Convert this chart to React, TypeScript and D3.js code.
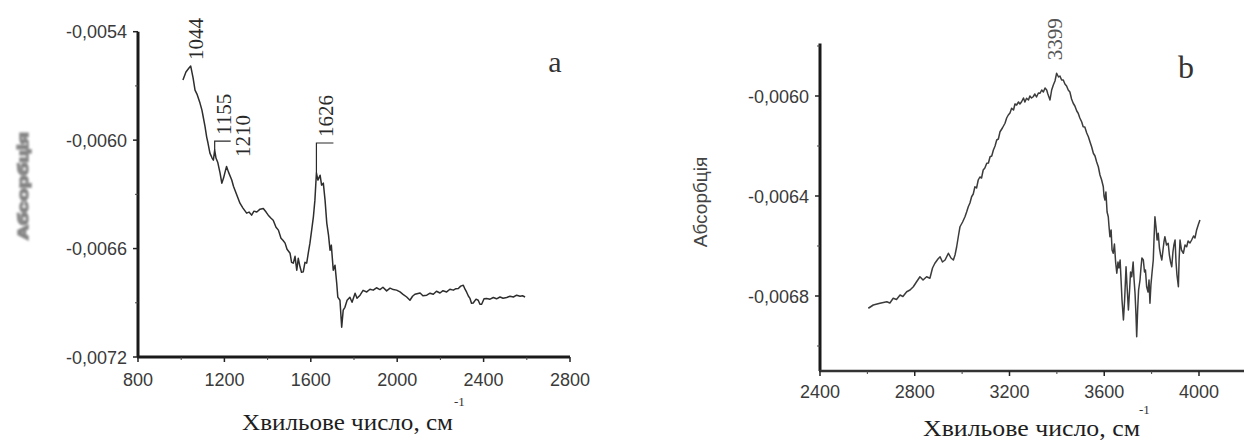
import React from "react";
import * as d3 from "d3";

// Spectrum (a): wavenumber, cm^-1 / absorbance
const spectrumA: [number, number][] = [
  [1008, -0.005667], [1022, -0.005623], [1036, -0.005601], [1044, -0.00559], [1055, -0.005656],
  [1064, -0.005723], [1073, -0.005745], [1087, -0.005795], [1096, -0.005834], [1102, -0.005872],
  [1110, -0.005922], [1118, -0.005983], [1124, -0.006016], [1133, -0.006072], [1143, -0.006099],
  [1149, -0.006111], [1155, -0.006055], [1161, -0.006099], [1169, -0.006122], [1180, -0.006183],
  [1188, -0.006238], [1196, -0.00621], [1203, -0.006177], [1210, -0.006146], [1219, -0.006177],
  [1234, -0.006221], [1242, -0.006255], [1249, -0.006277], [1261, -0.006315], [1272, -0.006349],
  [1286, -0.006376], [1303, -0.006404], [1314, -0.006398], [1326, -0.006415], [1337, -0.006393],
  [1350, -0.006398], [1365, -0.006382], [1380, -0.006378], [1393, -0.006398], [1403, -0.006415],
  [1416, -0.006432], [1426, -0.006443], [1439, -0.006482], [1450, -0.006498], [1462, -0.006543],
  [1471, -0.006554], [1481, -0.00657], [1490, -0.006604], [1504, -0.006626], [1511, -0.006676],
  [1519, -0.006681], [1527, -0.006643], [1535, -0.00672], [1542, -0.006654], [1550, -0.006701],
  [1557, -0.006731], [1565, -0.006729], [1573, -0.006676], [1581, -0.006681], [1589, -0.00662],
  [1596, -0.00657], [1604, -0.006498], [1612, -0.006425], [1619, -0.006332], [1626, -0.006182],
  [1633, -0.006221], [1643, -0.006194], [1650, -0.006249], [1658, -0.006238], [1666, -0.006332],
  [1674, -0.006459], [1682, -0.006526], [1689, -0.006609], [1695, -0.006581], [1704, -0.00672],
  [1712, -0.006692], [1720, -0.006792], [1725, -0.006869], [1735, -0.006886], [1743, -0.007035],
  [1750, -0.006941], [1758, -0.006925], [1768, -0.006886], [1781, -0.006869], [1791, -0.006897],
  [1805, -0.006847], [1814, -0.006875], [1828, -0.006858], [1842, -0.006831], [1859, -0.00684],
  [1874, -0.006825], [1889, -0.00683], [1904, -0.006817], [1920, -0.006827], [1934, -0.006814],
  [1951, -0.006834], [1967, -0.006819], [1982, -0.006827], [1997, -0.00683], [2013, -0.00684],
  [2027, -0.006853], [2044, -0.006868], [2059, -0.006886], [2071, -0.006864], [2082, -0.006853],
  [2106, -0.006846], [2119, -0.006861], [2137, -0.006858], [2152, -0.006847], [2167, -0.006853],
  [2182, -0.006836], [2198, -0.006846], [2212, -0.006833], [2229, -0.00684], [2244, -0.006825],
  [2260, -0.00683], [2272, -0.006822], [2283, -0.006821], [2294, -0.006808], [2306, -0.006803],
  [2314, -0.006825], [2321, -0.00684], [2330, -0.006864], [2337, -0.006876], [2344, -0.006903],
  [2352, -0.006901], [2365, -0.00688], [2375, -0.006886], [2383, -0.006908], [2391, -0.006908],
  [2402, -0.006878], [2414, -0.006876], [2430, -0.00688], [2445, -0.006871], [2460, -0.006878],
  [2476, -0.006868], [2490, -0.006875], [2507, -0.006871], [2522, -0.006864], [2538, -0.006868],
  [2553, -0.006858], [2569, -0.006864], [2580, -0.006861], [2592, -0.006868],
];

// Spectrum (b): wavenumber, cm^-1 / absorbance
const spectrumB: [number, number][] = [
  [2604, -0.006849], [2625, -0.006836], [2653, -0.006829], [2682, -0.006823], [2695, -0.006828],
  [2709, -0.006809], [2723, -0.006814], [2738, -0.006796], [2750, -0.006802], [2766, -0.006783],
  [2780, -0.006776], [2794, -0.006763], [2807, -0.006744], [2822, -0.006723], [2835, -0.006736],
  [2850, -0.006723], [2864, -0.006729], [2875, -0.006688], [2885, -0.006669], [2898, -0.006652],
  [2907, -0.006643], [2917, -0.006664], [2928, -0.006656], [2942, -0.006629], [2953, -0.006648],
  [2963, -0.006656], [2970, -0.006636], [2977, -0.006603], [2985, -0.006556], [2991, -0.006523],
  [3002, -0.006504], [3012, -0.006483], [3019, -0.006464], [3026, -0.006443], [3033, -0.006428],
  [3040, -0.006403], [3047, -0.006392], [3054, -0.006363], [3061, -0.006368], [3068, -0.006336],
  [3075, -0.006324], [3082, -0.006328], [3089, -0.006296], [3096, -0.006288], [3104, -0.006269],
  [3111, -0.006268], [3118, -0.006243], [3125, -0.00624], [3132, -0.006216], [3139, -0.0062],
  [3146, -0.006176], [3153, -0.006172], [3160, -0.006143], [3170, -0.006128], [3181, -0.006109],
  [3188, -0.006088], [3195, -0.006076], [3202, -0.006068], [3209, -0.006049], [3217, -0.006056],
  [3223, -0.006032], [3230, -0.006036], [3238, -0.006024], [3244, -0.006032], [3251, -0.006023],
  [3259, -0.006008], [3265, -0.006024], [3272, -0.006009], [3280, -0.006016], [3286, -0.006],
  [3293, -0.006008], [3300, -0.006003], [3307, -0.005992], [3314, -0.006004], [3322, -0.005988],
  [3329, -0.005989], [3336, -0.005976], [3343, -0.005984], [3350, -0.005968], [3357, -0.005976],
  [3362, -0.005992], [3371, -0.006016], [3378, -0.005976], [3385, -0.005956], [3392, -0.00594],
  [3399, -0.005909], [3407, -0.005924], [3413, -0.00592], [3420, -0.005936], [3427, -0.005936],
  [3434, -0.005952], [3441, -0.00596], [3448, -0.005976], [3455, -0.005984], [3462, -0.006012],
  [3469, -0.006029], [3476, -0.00604], [3484, -0.00606], [3490, -0.006069], [3497, -0.006088],
  [3505, -0.006104], [3511, -0.006123], [3518, -0.006124], [3526, -0.006148], [3533, -0.006163],
  [3540, -0.006184], [3547, -0.006204], [3554, -0.006229], [3561, -0.00624], [3568, -0.006264],
  [3575, -0.006283], [3582, -0.006316], [3589, -0.006336], [3596, -0.006363], [3599, -0.0064],
  [3603, -0.006416], [3607, -0.006384], [3612, -0.006464], [3617, -0.006483], [3620, -0.00652],
  [3624, -0.006563], [3629, -0.006536], [3633, -0.006616], [3638, -0.006629], [3643, -0.006592],
  [3648, -0.006664], [3653, -0.006709], [3658, -0.006664], [3662, -0.006688], [3667, -0.006656],
  [3671, -0.006736], [3675, -0.006816], [3681, -0.006896], [3686, -0.006816], [3692, -0.006683],
  [3696, -0.006756], [3702, -0.006856], [3707, -0.006776], [3711, -0.006704], [3716, -0.006723],
  [3722, -0.006664], [3726, -0.006736], [3730, -0.006789], [3734, -0.006876], [3737, -0.006963],
  [3741, -0.006856], [3745, -0.006776], [3751, -0.006736], [3755, -0.006688], [3759, -0.006648],
  [3765, -0.006656], [3770, -0.006704], [3774, -0.006696], [3779, -0.006763], [3785, -0.006784],
  [3789, -0.006736], [3793, -0.006829], [3797, -0.006756], [3802, -0.006704], [3807, -0.006656],
  [3810, -0.006576], [3814, -0.006483], [3819, -0.006528], [3823, -0.006576], [3828, -0.006549],
  [3833, -0.006608], [3838, -0.006636], [3843, -0.006656], [3848, -0.006616], [3852, -0.006584],
  [3856, -0.006563], [3863, -0.006596], [3870, -0.006589], [3875, -0.006636], [3880, -0.006664],
  [3885, -0.006683], [3890, -0.006624], [3894, -0.006596], [3899, -0.006576], [3903, -0.006664],
  [3907, -0.006716], [3913, -0.006763], [3916, -0.006656], [3920, -0.006576], [3926, -0.006616],
  [3934, -0.006629], [3941, -0.006596], [3948, -0.006603], [3954, -0.00658], [3962, -0.006588],
  [3969, -0.006576], [3977, -0.00656], [3983, -0.006568], [3990, -0.006536], [3998, -0.006512],
  [4004, -0.006496],
];

// Axis ticks
const xTicksA = [800, 1200, 1600, 2000, 2400, 2800];
const xMinorA = [1000, 1400, 1800, 2200, 2600];
const yTicksA = [-0.0054, -0.006, -0.0066, -0.0072];
const yMinorA = [-0.0057, -0.0063, -0.0069];

const xTicksB = [2400, 2800, 3200, 3600, 4000];
const xMinorB = [2600, 3000, 3400, 3800];
const yTicksB = [-0.006, -0.0064, -0.0068];
const yMinorB = [-0.0058, -0.0062, -0.0066, -0.007];

// Marked band positions, cm^-1
const peaksA = [1044, 1155, 1210, 1626];
const peaksB = [3399];

const axisTitle = "Хвильове число, см";
const yTitle = "Абсорбція";

const fmt = (v: number) => v.toFixed(4).replace(".", ",");

type PeakStyle = { dx: number; gap: number; leader: boolean };

type PanelProps = {
  data: [number, number][];
  x: d3.ScaleLinear<number, number>;
  y: d3.ScaleLinear<number, number>;
  xTicks: number[];
  xMinor: number[];
  yTicks: number[];
  yMinor: number[];
  peaks: number[];
  peakStyle: PeakStyle[];
  xAxisWidth: number;
  yAxisWidth: number;
  xAxisColor: string;
  curveColor: string;
  peakColor: string;
  xLabelDy: number;
};

function Panel(p: PanelProps) {
  const [x0, x1] = p.x.range();
  const [yb, yt] = p.y.range();
  const line = d3
    .line<[number, number]>()
    .x((d) => p.x(d[0]))
    .y((d) => p.y(d[1]));
  const lookup = new Map(p.data.map((d) => [d[0], d[1]]));
  const sans = "'Liberation Sans', Arial, sans-serif";
  const serif = "'Liberation Serif', 'Times New Roman', serif";

  return (
    <g>
      {/* curve */}
      <path d={line(p.data) ?? ""} fill="none" stroke={p.curveColor} strokeWidth={1.5} strokeLinejoin="round" />

      {/* y axis */}
      <line x1={x0} x2={x0} y1={yt} y2={yb} stroke="#1a1a1a" strokeWidth={p.yAxisWidth} />
      {p.yTicks.map((t) => (
        <g key={"yt" + t}>
          <line x1={x0 - 5} x2={x0} y1={p.y(t)} y2={p.y(t)} stroke="#222" strokeWidth={1.5} />
          <text x={x0 - 11} y={p.y(t) + 6.5} textAnchor="end" fontFamily={sans} fontSize={18} fill="#3a3a3a">
            {fmt(t)}
          </text>
        </g>
      ))}
      {p.yMinor.map((t) => (
        <line key={"ym" + t} x1={x0 - 3} x2={x0} y1={p.y(t)} y2={p.y(t)} stroke="#444" strokeWidth={1} />
      ))}

      {/* x axis */}
      <line x1={x0 - 1} x2={x1} y1={yb} y2={yb} stroke={p.xAxisColor} strokeWidth={p.xAxisWidth} />
      {p.xTicks.map((t) => (
        <g key={"xt" + t}>
          <line x1={p.x(t)} x2={p.x(t)} y1={yb} y2={yb + 5} stroke="#222" strokeWidth={1.5} />
          <text x={p.x(t)} y={yb + p.xLabelDy} textAnchor="middle" fontFamily={sans} fontSize={18} fill="#3a3a3a">
            {t}
          </text>
        </g>
      ))}
      {p.xMinor.map((t) => (
        <line key={"xm" + t} x1={p.x(t)} x2={p.x(t)} y1={yb} y2={yb + 3} stroke="#444" strokeWidth={1} />
      ))}

      {/* band labels */}
      {p.peaks.map((wn, i) => {
        const s = p.peakStyle[i];
        const px = p.x(wn);
        const py = p.y(lookup.get(wn) ?? 0);
        const top = py - s.gap;
        return (
          <g key={"pk" + wn}>
            {s.leader && (
              <path
                d={`M${px},${py} L${px},${top + 6} L${px + s.dx},${top + 6}`}
                fill="none"
                stroke={p.peakColor}
                strokeWidth={1.2}
              />
            )}
            <text
              transform={`translate(${px + s.dx},${top}) rotate(-90)`}
              fontFamily={serif}
              fontSize={21}
              fill={p.peakColor}
            >
              {wn}
            </text>
          </g>
        );
      })}
    </g>
  );
}

export default function App() {
  const xA = d3.scaleLinear().domain([800, 2800]).range([138, 570]);
  const yA = d3.scaleLinear().domain([-0.0072, -0.0054]).range([357, 31.7]);
  const xB = d3.scaleLinear().domain([2400, 4190]).range([820, 1244]);
  const yB = d3.scaleLinear().domain([-0.0071, -0.00579]).range([371, 43.5]);

  const serif = "'Liberation Serif', 'Times New Roman', serif";
  const sans = "'Liberation Sans', Arial, sans-serif";

  return (
    <svg
      width={1247}
      height={442}
      viewBox="0 0 1247 442"
      style={{ position: "absolute", left: 0, top: 0, background: "#fff" }}
    >
      <defs>
        <filter id="smear" x="-50%" y="-20%" width="200%" height="140%">
          <feGaussianBlur stdDeviation="1.3" />
        </filter>
      </defs>
      <rect width={1247} height={442} fill="#fff" />

      <Panel
        data={spectrumA}
        x={xA}
        y={yA}
        xTicks={xTicksA}
        xMinor={xMinorA}
        yTicks={yTicksA}
        yMinor={yMinorA}
        peaks={peaksA}
        peakStyle={[
          { dx: 12, gap: 6, leader: false },
          { dx: 16, gap: 15, leader: true },
          { dx: 23, gap: 9.5, leader: false },
          { dx: 17, gap: 36, leader: true },
        ]}
        xAxisWidth={3}
        yAxisWidth={3}
        xAxisColor="#1a1a1a"
        curveColor="#2e2e2e"
        peakColor="#2a2a2a"
        xLabelDy={29}
      />

      <Panel
        data={spectrumB}
        x={xB}
        y={yB}
        xTicks={xTicksB}
        xMinor={xMinorB}
        yTicks={yTicksB}
        yMinor={yMinorB}
        peaks={peaksB}
        peakStyle={[{ dx: 5, gap: 13, leader: false }]}
        xAxisWidth={2.5}
        yAxisWidth={3}
        xAxisColor="#333"
        curveColor="#3c3c3c"
        peakColor="#555"
        xLabelDy={27}
      />

      {/* panel letters */}
      <text x={555} y={72} textAnchor="middle" fontFamily={serif} fontSize={30} fill="#333">a</text>
      <text x={1186} y={78} textAnchor="middle" fontFamily={serif} fontSize={32} fill="#333">b</text>

      {/* x axis titles */}
      <text x={242} y={430} fontFamily={serif} fontSize={23} fill="#1e1e1e" textLength={211} lengthAdjust="spacingAndGlyphs">
        {axisTitle}
      </text>
      <text x={454} y={406} fontFamily={serif} fontSize={13} fill="#333">-1</text>
      <text x={923} y={436} fontFamily={serif} fontSize={23} fill="#1e1e1e" textLength={217} lengthAdjust="spacingAndGlyphs">
        {axisTitle}
      </text>
      <text x={1139} y={414} fontFamily={serif} fontSize={13} fill="#333">-1</text>

      {/* y axis titles */}
      <text
        transform="translate(28,186) rotate(-90)"
        textAnchor="middle"
        fontFamily={sans}
        fontSize={15}
        fontWeight="bold"
        fill="#7a7a7a"
        stroke="#8a8a8a"
        strokeWidth={1.5}
        filter="url(#smear)"
        textLength={108}
        lengthAdjust="spacingAndGlyphs"
      >
        {yTitle}
      </text>
      <text
        transform="translate(707,202) rotate(-90)"
        textAnchor="middle"
        fontFamily={sans}
        fontSize={19}
        fill="#444"
      >
        {yTitle}
      </text>
    </svg>
  );
}
